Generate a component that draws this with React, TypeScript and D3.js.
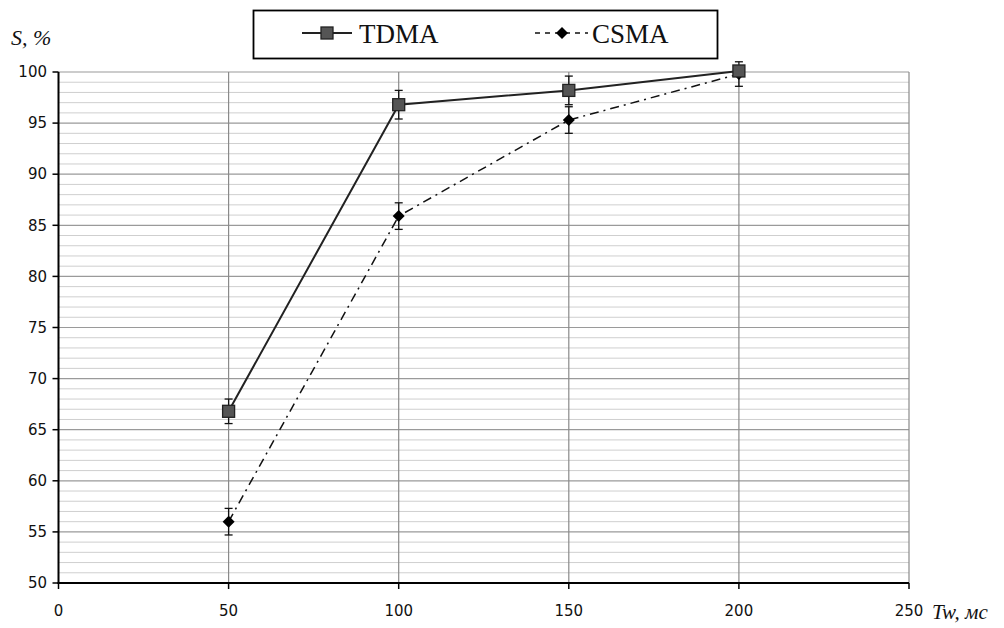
import React from 'react';
import * as d3 from 'd3';

// values
const tw = [50, 100, 150, 200];
const tdma = [66.8, 96.8, 98.2, 100.1];
const tdmaErr = [1.2, 1.4, 1.4, 0.5];
const csma = [56.0, 85.9, 95.3, 99.8];
const csmaErr = [1.3, 1.3, 1.3, 1.2];
const xTicks = [0, 50, 100, 150, 200, 250];
const yTicks = [50, 55, 60, 65, 70, 75, 80, 85, 90, 95, 100];

const W = 1004;
const H = 628;

const App = () => {
  const x = d3.scaleLinear().domain([0, 250]).range([58.5, 909]);
  const y = d3.scaleLinear().domain([50, 100]).range([583, 72]);
  const minor = d3.range(50, 101, 1).filter(v => v % 5 !== 0);

  const line = d3.line<number>()
    .x((_, i) => x(tw[i]))
    .y(d => y(d));

  const diamond = (cx: number, cy: number, r: number) =>
    `M${cx},${cy - r}L${cx + r},${cy}L${cx},${cy + r}L${cx - r},${cy}Z`;

  const errBar = (xi: number, v: number, e: number, key: string) => (
    <g key={key} stroke="#111" strokeWidth={1.3}>
      <line x1={xi} x2={xi} y1={y(v + e)} y2={y(v - e)} />
      <line x1={xi - 4} x2={xi + 4} y1={y(v + e)} y2={y(v + e)} />
      <line x1={xi - 4} x2={xi + 4} y1={y(v - e)} y2={y(v - e)} />
    </g>
  );

  return (
    <svg width={W} height={H} style={{ position: 'absolute', left: 0, top: 0, background: '#fff' }}>
      <rect width={W} height={H} fill="#fff" />

      {/* minor grid */}
      {minor.map(v => (
        <line key={'m' + v} x1={x(0)} x2={x(250)} y1={y(v)} y2={y(v)} stroke="#cfcfcf" strokeWidth={1} />
      ))}
      {/* major grid */}
      {yTicks.map(v => (
        <line key={'M' + v} x1={x(0)} x2={x(250)} y1={y(v)} y2={y(v)} stroke="#9a9a9a" strokeWidth={1.2} />
      ))}
      {xTicks.slice(1).map(v => (
        <line key={'v' + v} x1={x(v)} x2={x(v)} y1={y(100)} y2={y(50)} stroke="#8a8a8a" strokeWidth={1.2} />
      ))}

      {/* axes */}
      <line x1={x(0)} x2={x(0)} y1={y(100)} y2={y(50) + 1} stroke="#000" strokeWidth={2} />
      <line x1={x(0) - 1} x2={x(250)} y1={y(50)} y2={y(50)} stroke="#000" strokeWidth={2} />
      {yTicks.map(v => (
        <line key={'yt' + v} x1={x(0) - 6} x2={x(0)} y1={y(v)} y2={y(v)} stroke="#000" strokeWidth={1.5} />
      ))}
      {xTicks.map(v => (
        <line key={'xt' + v} x1={x(v)} x2={x(v)} y1={y(50)} y2={y(50) + 6} stroke="#000" strokeWidth={1.5} />
      ))}

      {/* tick labels */}
      <g fontFamily="'DejaVu Sans', sans-serif" fontSize={15} fill="#111">
        {yTicks.map(v => (
          <text key={'yl' + v} x={47} y={y(v)} dy="0.35em" textAnchor="end">{v}</text>
        ))}
        {xTicks.map(v => (
          <text key={'xl' + v} x={x(v)} y={616} textAnchor="middle">{v}</text>
        ))}
      </g>

      {/* axis titles */}
      <text x={11} y={45} fontFamily="'Liberation Serif', serif" fontStyle="italic" fontSize={22} fill="#111">S, %</text>
      <text x={932} y={619} fontFamily="'Liberation Serif', serif" fontStyle="italic" fontSize={21} fill="#111">Tw, мс</text>

      {/* CSMA */}
      <path d={line(csma) || ''} fill="none" stroke="#111" strokeWidth={1.5} strokeDasharray="9,5,2,5" />
      {csma.map((v, i) => errBar(x(tw[i]), v, csmaErr[i], 'ce' + i))}
      {csma.map((v, i) => (
        <path key={'cm' + i} d={diamond(x(tw[i]), y(v), 6)} fill="#000" />
      ))}

      {/* TDMA */}
      <path d={line(tdma) || ''} fill="none" stroke="#222" strokeWidth={2} />
      {tdma.map((v, i) => errBar(x(tw[i]), v, tdmaErr[i], 'te' + i))}
      {tdma.map((v, i) => (
        <rect key={'tm' + i} x={x(tw[i]) - 6} y={y(v) - 6} width={12} height={12} fill="#555" stroke="#222" strokeWidth={1.3} />
      ))}

      {/* legend */}
      <rect x={253.5} y={10.5} width={464} height={48} fill="#fff" stroke="#000" strokeWidth={1.8} />
      <line x1={302} x2={352} y1={33} y2={33} stroke="#222" strokeWidth={2} />
      <rect x={321} y={27} width={12} height={12} fill="#555" stroke="#222" strokeWidth={1.3} />
      <text x={359} y={43} fontFamily="'Liberation Serif', serif" fontSize={27} fill="#111">TDMA</text>
      <line x1={535} x2={588} y1={33} y2={33} stroke="#111" strokeWidth={1.5} strokeDasharray="5,5" />
      <path d={diamond(562, 33, 6)} fill="#000" />
      <text x={592} y={43} fontFamily="'Liberation Serif', serif" fontSize={27} fill="#111">CSMA</text>
    </svg>
  );
};

export default App;
